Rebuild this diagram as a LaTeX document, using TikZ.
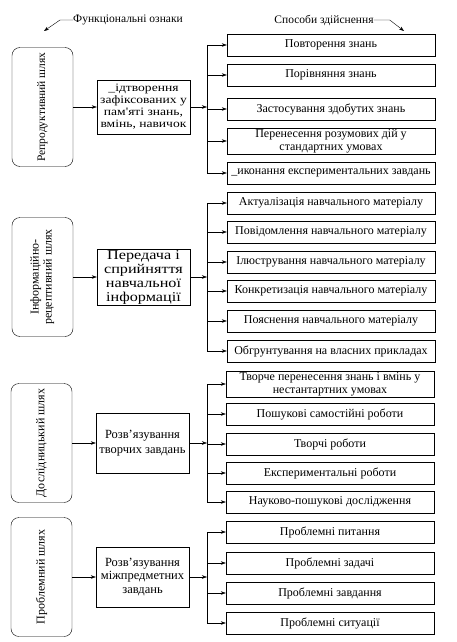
\documentclass[tikz,border=0pt]{standalone}
\usepackage{fontspec}
\setmainfont{Liberation Serif}
\newfontfamily\widefont{Liberation Serif}[FakeStretch=1.2]
\usetikzlibrary{arrows.meta}
\begin{document}
\begin{tikzpicture}[x=1pt, y=-1pt, font=\fontsize{12}{13}\selectfont,
  way/.style={draw, rounded corners=8pt, minimum width=61pt, minimum height=119pt, inner sep=0pt},
  task/.style={draw, minimum width=93pt, minimum height=54pt, inner sep=1pt, align=center},
  item/.style={draw, minimum width=208pt, minimum height=22pt, inner sep=1pt, align=center},
  arr/.style={-{Stealth[length=5pt,width=3.5pt]}},
  head/.style={inner sep=0pt, font=\fontsize{11.5}{13}\selectfont}]
\useasboundingbox (0,0) rectangle (457,642);
% headings
\node[head] (hf) at (128,20) {Функціональні ознаки};
\node[head] (hs) at (324,20) {Способи здійснення};
\coordinate (hfa) at (44,31);
\coordinate (hsa) at (404,31);
\draw[arr] (hf.west) -- ++(-13,0) -- (hfa);
\draw[arr] (hs.east) -- ++(16,0) -- (hsa);
% reproductive
\node[way, font=\fontsize{11.5}{13}\selectfont] (l1) at (42.5,107) {\rotatebox{90}{Репродуктивний шлях}};
\node[task, font=\widefont\fontsize{11.3}{12}\selectfont] (m1) at (143.5,107) {\_ідтворення\\зафіксованих у\\пам'яті знань,\\вмінь, навичок};
\coordinate (b1) at (207,107);
\draw[arr] (l1) -- (m1);
\draw[arr] (m1) -- (b1);
\foreach \y/\t [count=\i] in {45/{Повторення знань}, 75/{Порівняння знань},
    109/{Застосування здобутих знань}, 141/{Перенесення розумових дій  у\\стандартних умовах},
    173/{\_иконання експериментальних завдань}} {
  \node[item] (s1-\i) at (331,\y) {\t};
  \coordinate (k1-\i) at (207,\y);
  \draw[arr] (k1-\i) -- (s1-\i);}
\draw (k1-1) -- (k1-5);
% informational-receptive
\node[way] (l2) at (42.5,277) {\rotatebox{90}{\begin{tabular}{@{}c@{}}Інформаційно-\\рецептивний шлях\end{tabular}}};
\node[task, font=\widefont\fontsize{13.5}{14}\selectfont] (m2) at (143.5,277) {Передача і\\сприйняття\\навчальної\\інформації};
\coordinate (b2) at (207,277);
\draw[arr] (l2) -- (m2);
\draw[arr] (m2) -- (b2);
\foreach \y/\t [count=\i] in {203/{Актуалізація навчального матеріалу}, 232/{Повідомлення навчального матеріалу},
    262/{Ілюстрування навчального матеріалу}, 291/{Конкретизація навчального матеріалу},
    321/{Пояснення навчального матеріалу}, 351/{Обгрунтування на власних прикладах}} {
  \node[item] (s2-\i) at (331,\y) {\t};
  \coordinate (k2-\i) at (207,\y);
  \draw[arr] (k2-\i) -- (s2-\i);}
\draw (k2-1) -- (k2-6);
% research
\node[way] (l3) at (41.5,443) {\rotatebox{90}{Дослідницький шлях}};
\node[task, minimum height=60pt, font=\fontsize{12.5}{15}\selectfont] (m3) at (142.5,443) {Розв'язування\\творчих завдань};
\coordinate (b3) at (207,443);
\draw[arr] (l3) -- (m3);
\draw[arr] (m3) -- (b3);
\foreach \y/\t [count=\i] in {384/{Творче перенесення знань і вмінь у\\нестантартних умовах},
    414/{Пошукові самостійні роботи}, 444/{Творчі роботи},
    473/{Експериментальні роботи}, 502/{Науково-пошукові дослідження}} {
  \node[item] (s3-\i) at (330,\y) {\t};
  \coordinate (k3-\i) at (207,\y);
  \draw[arr] (k3-\i) -- (s3-\i);}
\draw (k3-1) -- (k3-5);
% problem
\node[way] (l4) at (41.5,577) {\rotatebox{90}{Проблемний шлях}};
\node[task, minimum height=60pt, font=\fontsize{12.5}{13.5}\selectfont] (m4) at (142.5,577) {Розв'язування\\міжпредметних\\завдань};
\coordinate (b4) at (207,577);
\draw[arr] (l4) -- (m4);
\draw[arr] (m4) -- (b4);
\foreach \y/\t [count=\i] in {532/{Проблемні питання}, 563/{Проблемні задачі},
    593/{Проблемні завдання}, 623/{Проблемні ситуації}} {
  \node[item] (s4-\i) at (330,\y) {\t};
  \coordinate (k4-\i) at (207,\y);
  \draw[arr] (k4-\i) -- (s4-\i);}
\draw (k4-1) -- (k4-4);
\end{tikzpicture}
\end{document}
